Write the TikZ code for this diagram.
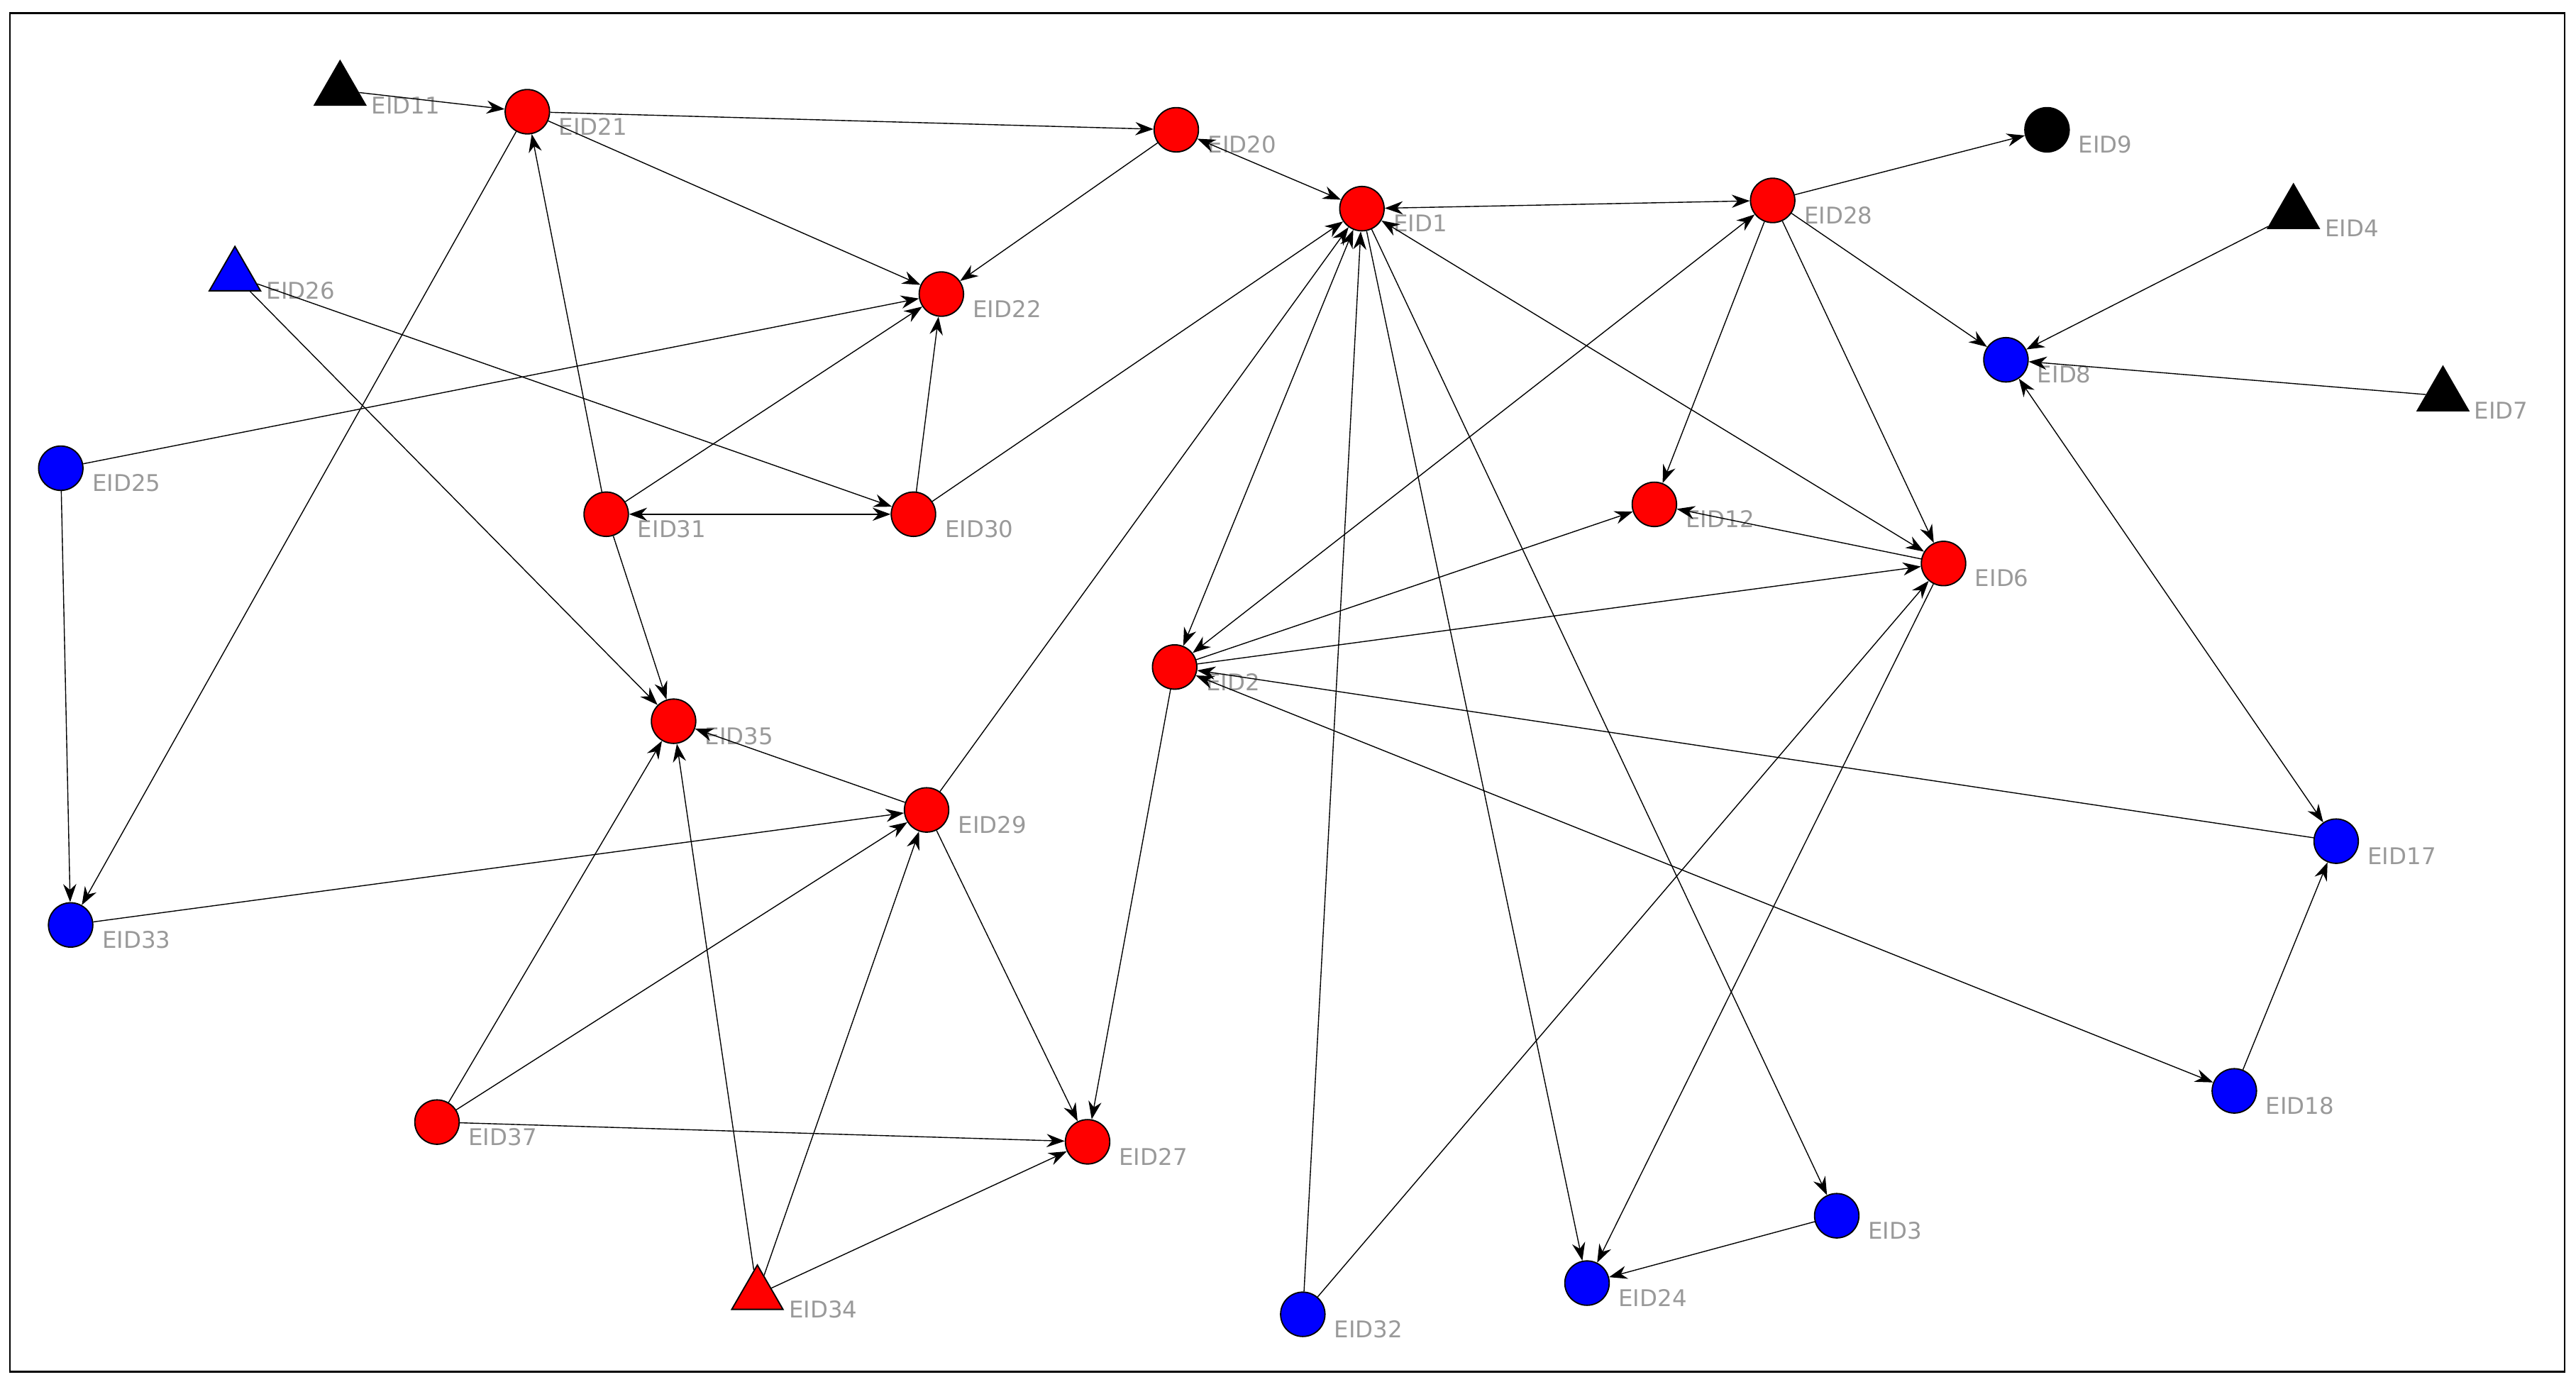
\documentclass[tikz,border=0pt]{standalone}
\usepackage{fontspec}
\setmainfont{DejaVu Sans}
\usetikzlibrary{shapes.geometric,arrows.meta}
\begin{document}
\begin{tikzpicture}[x=1pt,y=-1pt,
 c/.style={circle,draw=black,line width=0.8pt,minimum size=27pt,inner sep=0pt},
 t/.style={regular polygon,regular polygon sides=3,draw=black,line width=0.8pt,minimum size=36pt,inner sep=0pt},
 R/.style={fill=red},B/.style={fill=blue},K/.style={fill=black},
 lab/.style={text=gray!80,font=\fontsize{14}{14}\selectfont,anchor=west,inner sep=0pt},
 e/.style={-{Stealth[length=11pt,width=8pt]},line width=0.6pt},
 bi/.style={{Stealth[length=11pt,width=8pt]}-{Stealth[length=11pt,width=8pt]},line width=0.6pt}]
\useasboundingbox (0,0) rectangle (1568,841);
\draw[line width=1pt] (6,8) rectangle (1561,835);
\foreach \n/\x/\y/\s in {11/207/55/t,21/321/68/c,20/716/79/c,1/829/127/c,28/1079/122/c,9/1246/79/c,4/1396/130/t,26/143/168/t,22/573/179/c,8/1221/219/c,7/1487/241/t,25/37/285/c,31/369/313/c,30/556/313/c,12/1007/307/c,6/1183/343/c,2/715/406/c,35/410/439/c,29/564/493/c,17/1422/512/c,33/43/563/c,37/266/683/c,27/662/695/c,18/1360/664/c,34/461/788/t,3/1118/740/c,24/966/781/c,32/793/800/c}
 {\coordinate (p\n) at (\x,\y);}
\foreach \n in {21,20,1,28,22,31,30,12,6,2,35,29,37,27}{\node[c,R] (n\n) at (p\n) {};}
\foreach \n in {8,25,17,33,18,3,24,32}{\node[c,B] (n\n) at (p\n) {};}
\node[c,K] (n9) at (p9) {};
\foreach \n in {11,4,7}{\node[t,K] (n\n) at (p\n) {};}
\node[t,B] (n26) at (p26) {};
\node[t,R] (n34) at (p34) {};
\foreach \n in {11,21,20,1,28,9,4,26,22,8,7,25,31,30,12,6,2,35,29,17,33,37,27,18,34,3,24,32}
 {\node[lab] (l\n) at ([xshift=19pt,yshift=-9pt]p\n) {EID\n};}
\foreach \a/\b in {11/21,21/20,21/22,21/33,20/22,28/9,28/8,28/12,28/6,4/8,7/8,26/30,26/35,25/22,25/33,31/21,31/22,31/35,30/22,30/1,1/24,1/3,32/1,29/1,2/12,2/6,6/12,6/24,32/6,2/27,17/2,18/17,29/35,29/27,33/29,37/35,37/29,37/27,34/35,34/29,34/27,3/24}
 {\draw[e] (n\a) -- (n\b);}
\foreach \a/\b in {20/1,1/28,8/17,31/30,1/6,2/28,18/2,1/2}
 {\draw[bi] (n\a) -- (n\b);}
\end{tikzpicture}
\end{document}
